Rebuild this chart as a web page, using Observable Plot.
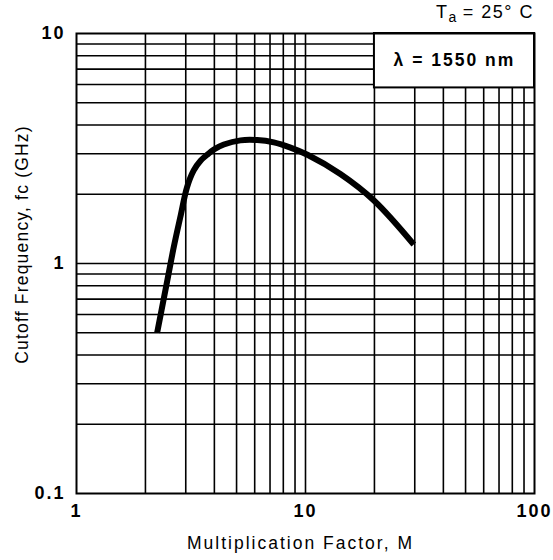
<!DOCTYPE html>
<html><head><meta charset="utf-8">
<script src="https://cdn.jsdelivr.net/npm/d3@7"></script>
<script src="https://cdn.jsdelivr.net/npm/@observablehq/plot@0.6"></script>
<style>
body{margin:0;background:#fff;}
#wrap{position:relative;width:553px;height:560px;font-family:'Liberation Sans',Arial,sans-serif;}
#ta{position:absolute;right:19px;top:2px;font-size:18px;letter-spacing:1.5px;color:#000;}
#ta sub{font-size:14px;vertical-align:-4px;letter-spacing:0;}
</style>
</head><body><div id="wrap"><div id="ta">T<sub>a</sub> = 25° C</div></div>
<script>
// Curve: cutoff frequency vs multiplication factor
const multiplication = [2.25, 2.49, 2.66, 2.84, 3.04, 3.25, 3.48, 3.72, 3.98, 4.4, 5.2, 6.15, 7.27, 8.6, 10.2, 14.2, 19.9, 29.7];
const cutoffGHz = [0.50, 0.84, 1.18, 1.59, 2.15, 2.54, 2.80, 2.97, 3.13, 3.29, 3.43, 3.44, 3.36, 3.19, 2.97, 2.45, 1.88, 1.21];

const xTicks = [1, 10, 100];
const yTicks = [0.1, 1, 10];
const xGrid = [2, 3, 4, 5, 6, 7, 8, 9, 10, 20, 30, 40, 50, 60, 70, 80, 90];
const yGrid = [0.2, 0.3, 0.4, 0.5, 0.6, 0.7, 0.8, 0.9, 1, 2, 3, 4, 5, 6, 7, 8, 9];
const xTitle = "Multiplication Factor, M";
const yTitle = "Cutoff Frequency, fc (GHz)";
const boxLabel = "λ = 1550 nm";
const boxX = [20, 100];
const boxY = [5.8, 10];

const data = multiplication.map((m, i) => ({m, f: cutoffGHz[i]}));
const font = "'Liberation Sans', Arial, sans-serif";

const chart = Plot.plot({
  width: 553, height: 560,
  marginLeft: 76, marginRight: 19, marginTop: 33, marginBottom: 67,
  style: {fontFamily: font, fontSize: "17px", color: "#000", background: "#fff", letterSpacing: "2px"},
  x: {type: "log", domain: [1, 100]},
  y: {type: "log", domain: [0.1, 10]},
  marks: [
    Plot.ruleX(xGrid, {stroke: "#000", strokeWidth: 1.6}),
    Plot.ruleY(yGrid, {stroke: "#000", strokeWidth: 1.6}),
    Plot.rect([0], {x1: () => boxX[0], x2: () => boxX[1], y1: () => boxY[0], y2: () => boxY[1], fill: "#fff", stroke: "#000", strokeWidth: 2}),
    Plot.text([boxLabel], {x: () => Math.sqrt(boxX[0]*boxX[1]), y: () => Math.sqrt(boxY[0]*boxY[1]), text: d => d, fontWeight: "bold", fontSize: 17.5}),
    Plot.frame({stroke: "#000", strokeWidth: 2}),
    Plot.line(data, {x: "m", y: "f", curve: "catmull-rom", stroke: "#000", strokeWidth: 6, strokeLinecap: "butt"}),
    Plot.axisX(xTicks, {tickSize: 0, tickPadding: 11, tickFormat: d => String(d), label: null, fontSize: 18, fontWeight: "bold"}),
    Plot.axisY(yTicks, {tickSize: 0, tickPadding: 11, tickFormat: d => String(d), label: null, fontSize: 18, fontWeight: "bold"}),
    Plot.text([xTitle], {frameAnchor: "bottom", dx: -5, dy: 55, text: d => d, fontSize: 17.5}),
    Plot.text([yTitle], {frameAnchor: "left", textAnchor: "middle", dx: -54, dy: -19, rotate: -90, text: d => d, fontSize: 17.5, style: {letterSpacing: "1.2px"}})
  ]
});
chart.querySelectorAll("text").forEach(t => { if (t.textContent === yTitle) t.style.letterSpacing = "1.2px"; });
document.getElementById("wrap").prepend(chart);
</script>
</body></html>
